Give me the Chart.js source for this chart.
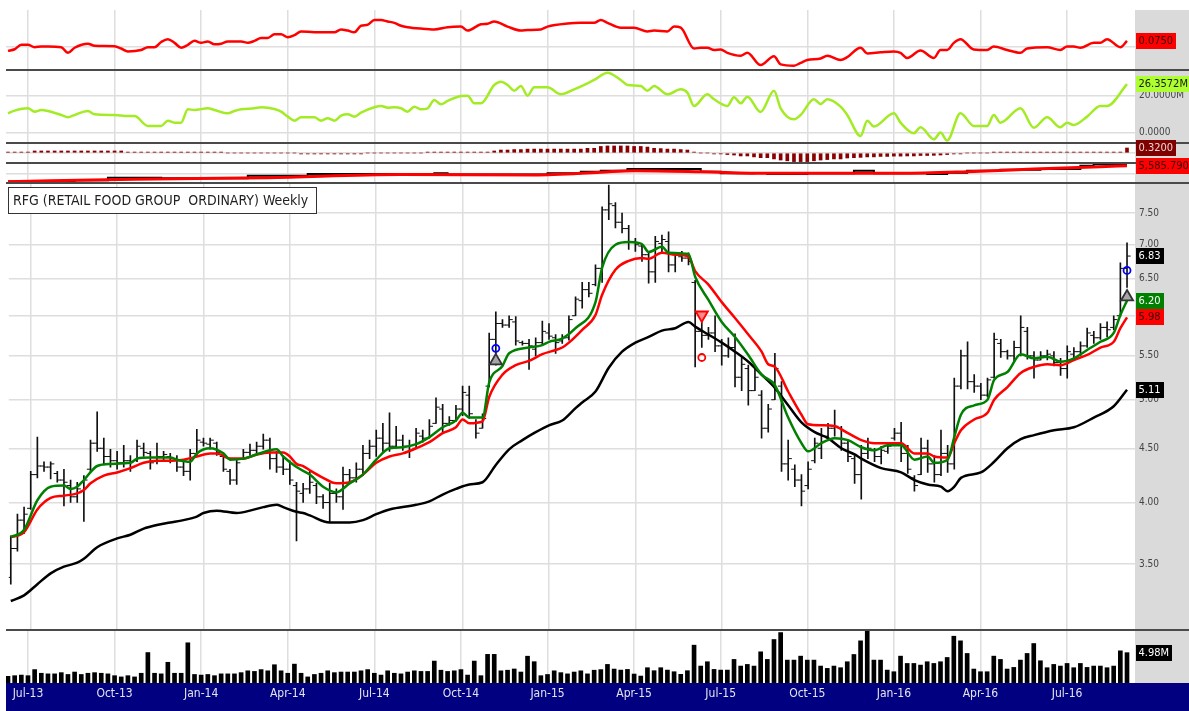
<!DOCTYPE html>
<html>
<head>
<meta charset="utf-8">
<title>RFG Weekly</title>
<script src="https://cdn.jsdelivr.net/npm/chart.js@4.4.1/dist/chart.umd.min.js"></script>
<style>
  html, body { margin: 0; padding: 0; background: #fff; overflow: hidden; }
  #wrap { position: relative; width: 1189px; height: 711px; }
  #wrap canvas { position: absolute; left: 0; }
</style>
</head>
<body>
<div id="wrap">
  <canvas id="pMom" width="1189" height="80" style="top:0px"></canvas>
  <canvas id="pObv" width="1189" height="93" style="top:60px"></canvas>
  <canvas id="pHist" width="1189" height="40" style="top:133px"></canvas>
  <canvas id="pIdx" width="1189" height="40" style="top:153px"></canvas>
  <canvas id="pPrice" width="1189" height="467" style="top:173px"></canvas>
  <canvas id="pVol" width="1189" height="91" style="top:620px"></canvas>
</div>
<script>
// weekly bars, week 0 = w/c 10 Jun 2013
const tickWeeks = [3, 16, 29, 42, 55, 68, 81, 94, 107, 120, 133, 146, 159];
const tickLabels = ["Jul-13", "Oct-13", "Jan-14", "Apr-14", "Jul-14", "Oct-14", "Jan-15",
  "Apr-15", "Jul-15", "Oct-15", "Jan-16", "Apr-16", "Jul-16"];
const priceTicks = [3.5, 4, 4.5, 5, 5.5, 6, 6.5, 7, 7.5];

const open = [
  3.40,3.62,3.85,3.95,4.25,4.33,4.32,4.26,4.20,4.15, 4.05,4.10,4.30,4.55,4.50,4.42,4.38,4.36,4.38,4.38,
  4.50,4.45,4.38,4.42,4.42,4.40,4.32,4.28,4.45,4.56, 4.54,4.55,4.42,4.28,4.20,4.40,4.46,4.48,4.52,4.58,
  4.40,4.32,4.30,4.15,4.08,4.12,4.15,4.05,4.00,4.08, 4.05,4.25,4.22,4.30,4.45,4.52,4.60,4.55,4.52,4.58,
  4.52,4.50,4.62,4.60,4.75,4.90,4.75,4.78,4.90,5.05, 4.75,4.70,5.15,5.70,5.90,5.88,5.92,5.66,5.65,5.58,
  5.66,5.78,5.72,5.68,5.72,6.00,6.20,6.35,6.42,6.65, 7.55,7.62,7.35,7.25,7.05,6.98,6.85,6.60,7.02,7.05,
  6.70,6.82,6.80,6.45,5.80,5.75,5.78,5.62,5.50,5.60, 5.25,5.35,5.10,5.05,4.70,5.00,5.15,4.35,4.30,4.20,
  4.15,4.38,4.50,4.62,4.70,4.70,4.55,4.40,4.25,4.45, 4.48,4.42,4.47,4.60,4.65,4.45,4.22,4.25,4.50,4.35,
  4.25,4.45,4.35,5.15,5.50,5.20,5.15,5.05,5.25,5.65, 5.55,5.50,5.60,5.80,5.50,5.45,5.50,5.50,5.42,5.35,
  5.52,5.55,5.62,5.75,5.72,5.85,5.85,6.00,6.65];
const high = [
  3.72,3.90,3.96,4.28,4.61,4.37,4.37,4.28,4.30,4.20, 4.18,4.24,4.58,4.87,4.60,4.49,4.47,4.53,4.43,4.58,
  4.55,4.47,4.55,4.47,4.45,4.43,4.37,4.49,4.69,4.60, 4.60,4.56,4.44,4.30,4.39,4.49,4.54,4.56,4.64,4.60,
  4.47,4.43,4.38,4.18,4.17,4.28,4.17,4.07,4.17,4.12, 4.32,4.30,4.36,4.53,4.58,4.68,4.75,4.86,4.72,4.63,
  4.58,4.70,4.68,4.79,5.02,4.95,4.82,4.94,5.15,5.15, 4.79,4.85,5.78,6.05,5.95,6.00,5.99,5.68,5.70,5.72,
  5.93,5.90,5.76,5.76,6.00,6.25,6.45,6.45,6.70,7.60, 7.97,7.67,7.50,7.30,7.10,7.00,6.90,7.13,7.15,7.20,
  6.88,6.90,6.88,6.48,5.98,5.85,6.00,5.70,5.72,5.77, 5.48,5.39,5.35,5.10,4.95,5.53,5.20,4.58,4.34,4.25,
  4.37,4.60,4.70,4.75,4.89,4.72,4.58,4.43,4.53,4.60, 4.50,4.52,4.54,4.70,4.76,4.53,4.24,4.60,4.58,4.43,
  4.68,4.53,5.24,5.57,5.67,5.28,5.18,5.24,5.78,5.70, 5.57,5.68,6.00,5.85,5.55,5.55,5.57,5.55,5.47,5.62,
  5.60,5.67,5.84,5.80,5.90,5.92,6.00,6.73,7.03];
const low = [
  3.35,3.60,3.74,3.94,4.22,4.28,4.21,4.18,3.97,4.00, 4.00,3.84,4.28,4.47,4.34,4.32,4.30,4.32,4.28,4.37,
  4.42,4.30,4.35,4.38,4.36,4.28,4.24,4.20,4.42,4.52, 4.49,4.43,4.28,4.16,4.16,4.39,4.43,4.45,4.49,4.30,
  4.27,4.25,4.16,3.68,4.00,4.08,3.99,3.95,3.83,4.00, 3.94,4.18,4.18,4.24,4.40,4.42,4.47,4.47,4.50,4.48,
  4.41,4.50,4.56,4.60,4.75,4.66,4.73,4.77,4.83,4.80, 4.60,4.70,5.14,5.39,5.85,5.85,5.63,5.63,5.34,5.50,
  5.63,5.70,5.53,5.65,5.69,6.00,6.10,6.25,6.40,6.45, 7.39,7.26,7.18,6.93,6.90,6.75,6.44,6.45,6.88,6.60,
  6.60,6.75,6.70,5.37,5.60,5.70,5.55,5.39,5.48,5.14, 5.10,4.94,5.10,4.60,4.66,5.00,4.28,4.20,4.14,3.97,
  4.12,4.36,4.40,4.60,4.62,4.48,4.37,4.17,4.03,4.40, 4.37,4.35,4.45,4.58,4.37,4.26,4.10,4.25,4.27,4.18,
  4.24,4.27,4.30,5.12,5.12,5.08,5.00,5.03,5.24,5.48, 5.46,5.42,5.50,5.46,5.24,5.45,5.45,5.38,5.27,5.24,
  5.47,5.50,5.60,5.65,5.70,5.73,5.82,5.99,6.38];
const close = [
  3.62,3.85,3.90,4.25,4.33,4.32,4.35,4.20,4.18,4.05, 4.12,4.20,4.55,4.50,4.42,4.38,4.36,4.38,4.37,4.52,
  4.46,4.36,4.42,4.44,4.40,4.32,4.28,4.45,4.58,4.55, 4.58,4.46,4.30,4.20,4.36,4.46,4.48,4.52,4.58,4.40,
  4.32,4.30,4.20,4.10,4.12,4.18,4.05,4.00,4.08,4.05, 4.25,4.22,4.30,4.45,4.52,4.60,4.55,4.52,4.58,4.52,
  4.48,4.65,4.60,4.72,4.92,4.75,4.78,4.90,5.08,4.85, 4.65,4.80,5.70,5.90,5.88,5.95,5.68,5.65,5.62,5.66,
  5.80,5.74,5.66,5.72,5.95,6.22,6.35,6.30,6.65,7.55, 7.65,7.35,7.25,7.05,7.00,6.85,6.60,7.05,7.08,6.70,
  6.85,6.80,6.75,5.80,5.75,5.78,5.62,5.50,5.60,5.25, 5.40,5.10,5.25,4.70,4.90,5.35,4.35,4.40,4.20,4.10,
  4.30,4.55,4.62,4.70,4.72,4.55,4.42,4.25,4.45,4.50, 4.42,4.48,4.52,4.65,4.45,4.30,4.15,4.50,4.35,4.25,
  4.45,4.35,5.15,5.50,5.20,5.15,5.05,5.22,5.70,5.55, 5.50,5.60,5.85,5.50,5.45,5.50,5.52,5.42,5.35,5.55,
  5.55,5.62,5.78,5.72,5.85,5.82,5.95,6.65,6.83];

// volume, millions
const volume = [
  1.1,1.2,1.3,1.2,2.2,1.6,1.5,1.5,1.7,1.4, 1.8,1.4,1.6,1.7,1.6,1.5,1.2,1.0,1.2,1.0,
  1.6,5.0,1.6,1.5,3.4,1.6,1.6,6.6,1.4,1.3, 1.4,1.2,1.5,1.5,1.5,1.7,2.0,1.9,2.2,2.0,
  3.0,2.0,1.6,3.1,1.6,1.0,1.4,1.6,2.0,1.7, 1.8,1.8,1.8,2.0,2.2,1.6,1.3,2.0,1.6,1.5,
  1.8,2.0,1.9,1.9,3.6,2.1,1.9,2.0,2.2,1.3, 3.6,1.2,4.7,4.7,2.0,2.1,2.3,1.8,4.4,3.5,
  1.2,1.4,2.0,1.7,1.5,1.8,2.0,1.5,2.1,2.2, 3.05,2.29,2.12,2.23,1.47,1.14,2.51,2.02,2.51,2.12,
  1.85,1.42,2.02,6.21,2.78,3.49,2.23,2.12,2.12,3.87, 2.78,3.05,2.78,5.12,3.87,7.14,8.28,3.76,3.76,4.41,
  3.76,3.76,2.78,2.40,2.78,2.51,3.49,4.68,6.92,8.66, 3.76,3.76,2.12,1.85,4.41,3.21,3.21,2.94,3.49,3.21,
  3.49,4.19,7.68,6.92,4.85,2.29,1.85,1.85,4.41,3.87, 2.29,2.56,3.76,4.85,6.48,3.65,2.51,3.05,2.78,3.21,
  2.51,3.21,2.56,2.78,2.78,2.51,2.78,5.28,4.98];

// moving averages (read at selected weeks)
const maFastWeek = [0,2,4,6,8,9,10,11,13,15,18,19,21,24,25,27,28,30,32,33,35,37,39,40,41,43,45,47,49,51,53,55,57,59,61,63,65,67,68,69,71,72,74,75,78,80,81,83,85,88,89,91,93,95,96,98,99,102,103,105,107,109,111,113,115,117,119,120,122,124,126,128,130,132,134,136,138,139,141,142,143,145,147,148,150,152,154,156,158,160,162,164,166,167,168];
const maFast = [3.71,3.77,4.02,4.14,4.15,4.12,4.14,4.20,4.33,4.35,4.36,4.40,4.41,4.41,4.39,4.37,4.45,4.50,4.45,4.39,4.40,4.44,4.48,4.49,4.42,4.32,4.25,4.14,4.09,4.17,4.25,4.39,4.50,4.51,4.54,4.61,4.71,4.78,4.86,4.81,4.81,5.19,5.38,5.53,5.60,5.63,5.67,5.71,5.84,6.18,6.66,7.00,7.04,7.01,6.89,6.97,6.88,6.86,6.53,6.21,5.92,5.73,5.51,5.28,5.16,4.81,4.55,4.47,4.55,4.60,4.58,4.51,4.48,4.53,4.53,4.39,4.42,4.36,4.39,4.61,4.84,4.94,5.00,5.22,5.31,5.52,5.47,5.49,5.43,5.47,5.57,5.67,5.78,6.01,6.20];
const maMidWeek = [0,2,4,6,8,10,11,12,14,16,18,20,22,24,26,28,30,31,33,35,37,39,41,42,43,44,45,47,49,51,53,55,57,59,61,63,65,67,68,69,71,72,74,76,78,80,82,83,84,86,88,89,91,93,95,96,98,100,102,103,105,107,109,111,113,114,115,117,119,120,122,124,126,128,130,132,134,136,138,139,141,142,143,145,147,148,150,152,154,156,158,160,162,164,166,167,168];
const maMid = [3.71,3.75,3.94,4.04,4.06,4.08,4.11,4.17,4.24,4.27,4.31,4.36,4.38,4.38,4.39,4.42,4.45,4.45,4.40,4.40,4.44,4.46,4.46,4.42,4.35,4.33,4.29,4.22,4.17,4.18,4.25,4.36,4.42,4.45,4.50,4.56,4.65,4.71,4.79,4.75,4.77,5.03,5.28,5.39,5.44,5.52,5.57,5.60,5.66,5.82,6.01,6.28,6.63,6.76,6.80,6.79,6.88,6.85,6.82,6.61,6.42,6.18,5.97,5.76,5.55,5.40,5.37,5.09,4.84,4.74,4.73,4.72,4.65,4.58,4.55,4.55,4.55,4.45,4.45,4.42,4.41,4.55,4.68,4.79,4.86,5.00,5.14,5.30,5.37,5.40,5.39,5.45,5.51,5.60,5.67,5.84,5.98];
const maSlowWeek = [0,2,4,6,8,10,11,13,16,18,20,22,24,26,28,29,31,34,36,38,40,41,43,44,45,48,51,53,55,57,61,63,65,67,69,71,73,75,77,79,81,83,85,86,88,90,92,94,96,98,100,102,103,105,107,109,111,113,115,117,119,121,123,125,127,128,131,134,136,138,140,141,142,143,146,148,150,152,154,157,160,163,166,168];
const maSlow = [3.23,3.27,3.35,3.43,3.48,3.51,3.54,3.63,3.70,3.73,3.78,3.81,3.83,3.85,3.88,3.91,3.93,3.91,3.93,3.96,3.98,3.96,3.92,3.91,3.89,3.83,3.83,3.85,3.90,3.94,3.98,4.01,4.07,4.12,4.16,4.18,4.34,4.49,4.58,4.66,4.73,4.78,4.91,4.97,5.09,5.36,5.55,5.66,5.73,5.81,5.84,5.92,5.86,5.76,5.66,5.55,5.43,5.28,5.13,4.94,4.76,4.66,4.60,4.50,4.44,4.40,4.31,4.27,4.20,4.16,4.14,4.10,4.14,4.22,4.27,4.37,4.50,4.59,4.63,4.68,4.71,4.81,4.93,5.11];

// signal markers
const buyWeeks = [73, 168];
const buyMark = [5.44, 6.25];
const buyRingMark = [5.59, 6.62];
const sellWeeks = [104];
const sellMark = [6.01];
const sellRingMark = [5.48];

// top indicator panels
const momWeek = [0,1,2,3,4,5,6,8,9,10,12,13,16,17,18,20,21,22,23,24,25,26,27,28,29,30,31,32,33,35,36,37,38,39,40,41,42,43,44,46,49,50,51,52,53,54,55,56,57,58,59,60,62,64,66,68,69,71,72,73,75,77,78,80,81,84,86,88,89,90,92,94,96,97,99,100,101,103,104,105,106,107,108,110,111,113,115,116,118,119,120,122,123,125,126,128,129,131,133,134,135,137,139,140,141,142,143,145,147,148,150,152,153,156,158,159,160,161,163,164,165,167,168];
const momentum = [-0.05,-0.03,0.025,0.025,-0.004,0.004,0.004,-0.004,-0.075,-0.011,0.039,0.014,0.007,-0.021,-0.057,-0.039,-0.004,-0.004,0.061,0.096,0.05,-0.011,0.025,0.075,0.05,0.068,0.032,0.039,0.068,0.068,0.05,0.075,0.111,0.111,0.157,0.157,0.121,0.146,0.193,0.182,0.182,0.218,0.203,0.182,0.264,0.275,0.335,0.335,0.317,0.30,0.264,0.246,0.228,0.218,0.246,0.253,0.203,0.282,0.289,0.317,0.253,0.203,0.21,0.218,0.253,0.292,0.30,0.30,0.335,0.30,0.239,0.239,0.193,0.203,0.193,0.253,0.239,-0.021,-0.011,-0.011,-0.039,-0.032,-0.075,-0.111,-0.075,-0.228,-0.118,-0.218,-0.235,-0.2,-0.164,-0.146,-0.111,-0.164,-0.128,-0.011,-0.082,-0.068,-0.057,-0.075,-0.139,-0.046,-0.139,-0.039,-0.039,0.05,0.096,-0.032,-0.039,0.004,-0.039,-0.075,-0.021,-0.004,-0.039,0.004,0.004,-0.011,0.05,0.05,0.096,-0.004,0.075];

const obvWeek = [0,1,3,4,5,6,8,9,10,12,13,16,18,19,21,22,23,24,25,26,27,28,30,31,33,34,35,37,38,40,41,42,43,44,46,47,48,49,50,51,52,53,55,56,57,58,59,60,61,62,63,64,65,66,68,69,70,71,73,74,75,76,77,78,79,81,83,85,87,88,90,92,93,95,96,97,99,101,102,103,105,106,108,109,110,111,113,115,116,118,119,121,122,123,125,126,128,129,130,133,134,136,137,139,140,141,143,145,147,148,149,152,154,156,158,159,160,162,164,165,168];
const obv = [10.38,11.84,13.11,11.29,12.2,11.65,9.47,8.19,9.47,11.65,9.83,9.47,8.92,8.92,3.46,3.46,3.46,6.37,5.28,5.28,12.56,12.2,13.11,12.2,10.38,11.65,12.56,13.11,13.66,12.75,11.29,8.56,6.37,8.19,8.19,6.37,7.65,6.37,9.1,9.83,8.56,10.74,13.66,14.39,13.48,13.66,13.11,11.29,14.02,12.56,13.11,17.66,15.3,17.12,19.85,20.03,15.84,15.84,25.86,27.68,25.86,22.76,25.31,20.03,24.58,24.58,20.76,23.49,26.77,28.59,32.6,28.59,25.86,25.31,22.76,25.31,20.76,23.49,21.67,14.39,20.76,18.03,14.39,19.12,15.84,19.48,11.11,22.76,13.11,7.1,9.47,18.03,15.48,18.03,14.02,9.47,-2.0,6.37,3.1,10.38,5.28,-0.55,2.73,-3.82,-0.18,-4.55,10.38,3.46,3.46,9.47,5.28,13.11,2.55,8.19,2.73,5.28,4.0,8.56,14.39,14.39,26.3572];

const histogram = [
  0.06,0.06,0.06,0.06,0.13,0.13,0.13,0.13,0.13,0.13, 0.13,0.13,0.13,0.13,0.13,0.13,0.13,0.13,0.06,0.06,
  0.06,0.06,0.06,0.06,0.06,0.06,0.06,0.06,0.06,0.06, 0.06,0.06,0.06,0,0,0,0,0,0,0,
  0,0,0,0,-0.06,-0.06,-0.06,-0.06,-0.06,-0.06, -0.06,-0.06,-0.06,-0.06,0,0,0,0,0,0,
  0,0,0,0.06,0.06,0.06,0.06,0.06,0.06,0.06, 0.06,0.06,0.06,0.13,0.19,0.19,0.22,0.22,0.25,0.25,
  0.25,0.25,0.25,0.25,0.25,0.25,0.25,0.3,0.3,0.42, 0.45,0.45,0.45,0.45,0.42,0.42,0.38,0.3,0.28,0.25,
  0.25,0.22,0.19,0.06,0,0,-0.06,-0.06,-0.1,-0.13, -0.19,-0.19,-0.25,-0.3,-0.3,-0.38,-0.45,-0.5,-0.55,-0.55,
  -0.55,-0.5,-0.45,-0.42,-0.38,-0.38,-0.32,-0.3,-0.28,-0.25, -0.25,-0.22,-0.22,-0.2,-0.2,-0.19,-0.19,-0.16,-0.16,-0.15,
  -0.13,-0.1,-0.06,-0.06,0,0,0,0,0.06,0.06, 0.06,0.06,0.06,0.06,0.06,0.06,0.06,0.06,0.06,0.06,
  0.06,0.06,0.06,0.06,0.06,0.06,0.06,0.06,0.32];

const idxWeek = [0,19,39,59,79,89,94,104,114,119,134,144,154,164,168];
const idxLine = [4946,5042,5106,5230,5214,5322,5386,5346,5282,5282,5282,5346,5454,5546,5585.79];
const idxBarWeek = [0,10,15,23,36,42,45,59,64,66,81,86,89,93,104,107,112,114,120,127,130,138,141,144,149,155,161,163,168];
const idxBar = [4950,5000,5106,5080,5186,5180,5254,5240,5282,5230,5282,5346,5386,5454,5346,5282,5290,5250,5282,5386,5282,5254,5300,5386,5426,5454,5586,5642,5642];

const GRID = '#dedede';
const SMALL_FONT = { family: '"DejaVu Sans Condensed", "DejaVu Sans", sans-serif', size: 10 };
const TAG_FONT = '11px "DejaVu Sans Condensed", "DejaVu Sans", sans-serif';
const last = a => a[a.length - 1];
const pts = (xs, ys, dx = 0) => xs.map((x, k) => ({ x: x + dx, y: ys[k] }));
const weeks = close.map((_, i) => i);

// gray value strip, separators, value tags
const panelFrame = {
  id: 'panelFrame',
  beforeDraw(chart, args, o) {
    const { ctx, chartArea: a } = chart;
    ctx.save();
    ctx.fillStyle = '#dadada';
    ctx.fillRect(a.right, a.top, chart.width - a.right, a.bottom - a.top);
    if (o.navy) {
      ctx.fillStyle = '#000080';
      ctx.fillRect(6, a.bottom, chart.width - 6, chart.height - a.bottom);
    }
    ctx.restore();
  },
  afterDraw(chart, args, o) {
    const { ctx, chartArea: a } = chart;
    ctx.save();
    if (o.separator) {
      ctx.fillStyle = '#4a4a4a';
      ctx.fillRect(6, a.top - 1, chart.width - 6, 2);
    }
    (o.tags || []).forEach(t => {
      const y = Math.round(chart.scales.y.getPixelForValue(t.v));
      ctx.font = TAG_FONT;
      const w = Math.ceil(ctx.measureText(t.text).width) + 5;
      ctx.fillStyle = t.bg;
      ctx.fillRect(a.right + 1, y - 8, w, 16);
      ctx.fillStyle = t.fg;
      ctx.textAlign = 'left';
      ctx.textBaseline = 'middle';
      ctx.fillText(t.text, a.right + 3.5, y + 0.5);
    });
    if (o.title) {
      ctx.font = '14px "DejaVu Sans Condensed", "DejaVu Sans", sans-serif';
      ctx.fillStyle = '#fff';
      ctx.fillRect(8.5, a.top + 4.5, 308, 26);
      ctx.strokeStyle = '#333';
      ctx.lineWidth = 1;
      ctx.strokeRect(8.5, a.top + 4.5, 308, 26);
      ctx.fillStyle = '#222';
      ctx.textAlign = 'left';
      ctx.textBaseline = 'middle';
      ctx.fillText(o.title, 13, a.top + 18, 297);
    }
    ctx.restore();
  }
};

function makeOptions(p) {
  return {
    responsive: false,
    animation: false,
    devicePixelRatio: 1,
    layout: { padding: { left: 6, right: 0, top: p.padTop, bottom: p.padBottom } },
    plugins: {
      legend: { display: false },
      tooltip: { enabled: false },
      panelFrame: { separator: p.separator, tags: p.tags, navy: p.navy, title: p.title }
    },
    scales: {
      x: {
        type: 'linear', min: -0.3, max: 169.2, offset: false, bounds: 'data',
        afterBuildTicks: s => { s.ticks = tickWeeks.map(v => ({ value: v })); },
        afterFit: s => { s.height = p.xLabels ? 28 : 0; },
        grid: { color: GRID, lineWidth: 1.5, drawTicks: false, offset: false },
        border: { display: false },
        ticks: p.xLabels ? {
          display: true, autoSkip: false, maxRotation: 0, padding: 4, color: '#e4e4f0',
          font: { family: '"Liberation Sans Narrow", "DejaVu Sans Condensed", sans-serif', size: 12 },
          callback: v => tickLabels[tickWeeks.indexOf(v)] || ''
        } : { display: false }
      },
      y: {
        type: p.yType || 'linear', position: 'right', min: p.yMin, max: p.yMax, bounds: 'data',
        afterBuildTicks: s => { s.ticks = (p.yTicks || []).map(v => ({ value: v })); },
        afterFit: s => { s.width = 54; },
        grid: { color: GRID, lineWidth: 1.5, drawTicks: false, display: p.yGrid !== false },
        border: { display: false },
        ticks: {
          display: !!p.yFmt, padding: 4, color: '#444', font: SMALL_FONT,
          callback: p.yFmt || (() => '')
        }
      }
    }
  };
}

const lineDs = (data, color, width, order) => ({
  type: 'line', data, borderColor: color, borderWidth: width, pointRadius: 0,
  pointHoverRadius: 0, fill: false, cubicInterpolationMode: 'monotone', order
});

// panel 1: momentum
new Chart(document.getElementById('pMom'), {
  type: 'line',
  data: { datasets: [lineDs(pts(momWeek, momentum), '#ff0000', 2.5, 1)] },
  options: makeOptions({
    padTop: 0, padBottom: 10, yMin: -0.2889, yMax: 0.4601, yTicks: [0],
    yFmt: v => v.toFixed(4),
    tags: [{ v: last(momentum), text: last(momentum).toFixed(4), bg: '#ff0000', fg: '#3a0000' }]
  }),
  plugins: [panelFrame]
});

// panel 2: volume flow
new Chart(document.getElementById('pObv'), {
  type: 'line',
  data: { datasets: [lineDs(pts(obvWeek, obv), '#a3ec25', 2.5, 1)] },
  options: makeOptions({
    padTop: 10, padBottom: 10, yMin: -5.85, yMax: 34.04, yTicks: [0, 20], separator: true,
    yFmt: v => v === 0 ? '0.0000' : v.toFixed(4) + 'M',
    tags: [{ v: last(obv), text: last(obv).toFixed(4) + 'M', bg: '#adff2f', fg: '#1a1a1a' }]
  }),
  plugins: [panelFrame]
});

// panel 3: histogram
new Chart(document.getElementById('pHist'), {
  type: 'bar',
  data: { datasets: [{ data: pts(weeks, histogram), backgroundColor: '#8b0000', barThickness: 3, grouped: false }] },
  options: makeOptions({
    padTop: 10, padBottom: 10, yMin: -0.64, yMax: 0.64, yTicks: [0], separator: true,
    tags: [{ v: last(histogram), text: last(histogram).toFixed(4), bg: '#800000', fg: '#e8d8d8' }]
  }),
  plugins: [panelFrame]
});

// panel 4: index comparison
new Chart(document.getElementById('pIdx'), {
  type: 'line',
  data: {
    datasets: [
      lineDs(pts(idxLine.length ? idxWeek : [], idxLine), '#ff0000', 3, 1),
      { type: 'line', data: pts(idxBarWeek, idxBar), borderColor: '#000', borderWidth: 2,
        pointRadius: 0, stepped: true, fill: false, order: 2 }
    ]
  },
  options: makeOptions({
    padTop: 10, padBottom: 10, yMin: 4894, yMax: 5694, yTicks: [5282], separator: true,
    tags: [{ v: last(idxLine), bg: '#ff0000', fg: '#3a0000',
      text: last(idxLine).toLocaleString('en-US', { minimumFractionDigits: 4, maximumFractionDigits: 4 }) }]
  }),
  plugins: [panelFrame]
});

// main price panel
const markerDs = (data, style, r, bg, border, rot) => ({
  type: 'line', data, showLine: false, pointStyle: style, pointRadius: r, pointHoverRadius: r,
  pointBackgroundColor: bg, pointBorderColor: border, pointBorderWidth: 1.8, pointRotation: rot || 0, order: 0
});
new Chart(document.getElementById('pPrice'), {
  type: 'bar',
  data: {
    datasets: [
      markerDs(pts(buyWeeks, buyRingMark), 'circle', 3.5, 'rgba(0,0,0,0)', '#0000ff'),
      markerDs(pts(buyWeeks, buyMark), 'triangle', 7, '#a6a6a6', '#333'),
      markerDs(pts(sellWeeks, sellMark), 'triangle', 7, '#ff8888', '#ff0000', 180),
      markerDs(pts(sellWeeks, sellRingMark), 'circle', 3.5, 'rgba(0,0,0,0)', '#ff0000'),
      lineDs(pts(maFastWeek, maFast), '#008000', 2.5, 1),
      lineDs(pts(maMidWeek, maMid), '#ff0000', 2.5, 2),
      lineDs(pts(maSlowWeek, maSlow), '#000000', 2.5, 3),
      { type: 'line', data: pts(weeks, open, -0.28), showLine: false, pointStyle: 'line',
        pointRadius: 1.8, pointBorderWidth: 1, pointBorderColor: '#111', order: 4 },
      { type: 'line', data: pts(weeks, close, 0.28), showLine: false, pointStyle: 'line',
        pointRadius: 1.8, pointBorderWidth: 1, pointBorderColor: '#111', order: 4 },
      { type: 'bar', data: weeks.map(i => ({ x: i, y: [low[i], high[i]] })),
        backgroundColor: '#111', barThickness: 1, grouped: false, order: 5 }
    ]
  },
  options: makeOptions({
    padTop: 10, padBottom: 10, yType: 'logarithmic', yMin: 3.033, yMax: 8.004,
    yTicks: priceTicks, separator: true, yFmt: v => Number(v).toFixed(2),
    title: 'RFG (RETAIL FOOD GROUP  ORDINARY) Weekly',
    tags: [
      { v: last(close), text: last(close).toFixed(2), bg: '#000', fg: '#fff' },
      { v: last(maFast), text: last(maFast).toFixed(2), bg: '#008000', fg: '#fff' },
      { v: last(maMid), text: last(maMid).toFixed(2), bg: '#ff0000', fg: '#3a0000' },
      { v: last(maSlow), text: last(maSlow).toFixed(2), bg: '#000', fg: '#fff' }
    ]
  }),
  plugins: [panelFrame]
});

// volume panel with date axis
new Chart(document.getElementById('pVol'), {
  type: 'bar',
  data: { datasets: [{ data: pts(weeks, volume), backgroundColor: '#000', barThickness: 4, grouped: false }] },
  options: makeOptions({
    padTop: 10, padBottom: 0, yMin: 0, yMax: 8.7, yTicks: [], yGrid: false, separator: true,
    xLabels: true, navy: true,
    tags: [{ v: last(volume), text: last(volume).toFixed(2) + 'M', bg: '#000', fg: '#fff' }]
  }),
  plugins: [panelFrame]
});
</script>
</body>
</html>
